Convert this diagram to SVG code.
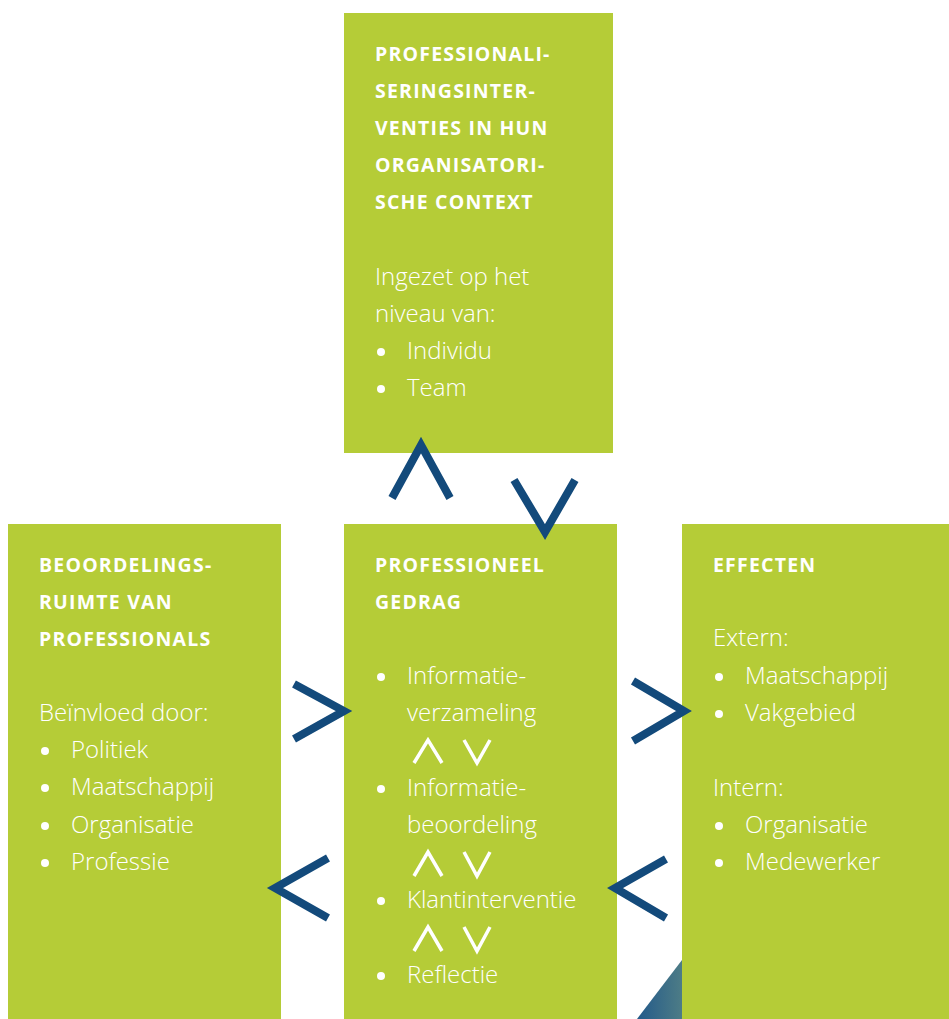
<svg xmlns="http://www.w3.org/2000/svg" width="949" height="1019" viewBox="0 0 949 1019">
<defs>
<style>
.box{fill:#b5cc37}
.h{font-family:"Open Sans","Liberation Sans",sans-serif;font-weight:700;font-size:19.5px;letter-spacing:1.2px;fill:#fff}
.t{font-family:"Open Sans","Liberation Sans",sans-serif;font-weight:300;font-size:24px;fill:#fff}
.bul{fill:#fff}
.arr{fill:none;stroke:#134a7b;stroke-width:8;stroke-linejoin:miter;stroke-miterlimit:10}
.sm{fill:none;stroke:#fff;stroke-width:3.5;stroke-linejoin:miter}
</style>
<linearGradient id="tri" x1="0" y1="0" x2="1" y2="0">
<stop offset="0" stop-color="#235a8a"/>
<stop offset="1" stop-color="#4d7c86"/>
</linearGradient>
</defs>
<rect width="949" height="1019" fill="#fff"/>
<polygon points="682,960 682,1019 637,1019" fill="url(#tri)"/>

<g id="node-top">
<rect class="box" x="344" y="13" width="269" height="440"/>
<text class="h" x="375" y="61">PROFESSIONALI-</text>
<text class="h" x="375" y="98">SERINGSINTER-</text>
<text class="h" x="375" y="135">VENTIES IN HUN</text>
<text class="h" x="375" y="172">ORGANISATORI-</text>
<text class="h" x="375" y="209">SCHE CONTEXT</text>
<text class="t" x="375" y="285">Ingezet op het</text>
<text class="t" x="375" y="322">niveau van:</text>
<circle class="bul" cx="381" cy="352" r="4"/>
<text class="t" x="407" y="359">Individu</text>
<circle class="bul" cx="381" cy="389" r="4"/>
<text class="t" x="407" y="396">Team</text>
</g>

<g id="node-left">
<rect class="box" x="8" y="524" width="273" height="495"/>
<text class="h" x="39" y="572">BEOORDELINGS-</text>
<text class="h" x="39" y="609">RUIMTE VAN</text>
<text class="h" x="39" y="646">PROFESSIONALS</text>
<text class="t" x="39" y="721">Beïnvloed door:</text>
<circle class="bul" cx="45" cy="751" r="4"/>
<text class="t" x="71" y="758">Politiek</text>
<circle class="bul" cx="45" cy="788" r="4"/>
<text class="t" x="71" y="795">Maatschappij</text>
<circle class="bul" cx="45" cy="826" r="4"/>
<text class="t" x="71" y="833">Organisatie</text>
<circle class="bul" cx="45" cy="863" r="4"/>
<text class="t" x="71" y="870">Professie</text>
</g>

<g id="node-middle">
<rect class="box" x="344" y="524" width="273" height="495"/>
<text class="h" x="375" y="572">PROFESSIONEEL</text>
<text class="h" x="375" y="609">GEDRAG</text>
<circle class="bul" cx="381" cy="677" r="4"/>
<text class="t" x="407" y="684">Informatie-</text>
<text class="t" x="407" y="721">verzameling</text>
<path class="sm" d="M414,763 L428,740 L442,763 M464,740 L477,763 L490,740"/>
<circle class="bul" cx="381" cy="789" r="4"/>
<text class="t" x="407" y="796">Informatie-</text>
<text class="t" x="407" y="833">beoordeling</text>
<path class="sm" d="M414,876 L428,852 L442,876 M464,852 L477,876 L490,852"/>
<circle class="bul" cx="381" cy="901" r="4"/>
<text class="t" x="407" y="908">Klantinterventie</text>
<path class="sm" d="M414,951 L428,927 L442,951 M464,927 L477,951 L490,927"/>
<circle class="bul" cx="381" cy="976" r="4"/>
<text class="t" x="407" y="983">Reflectie</text>
</g>

<g id="node-right">
<rect class="box" x="682" y="524" width="267" height="495"/>
<text class="h" x="713" y="572">EFFECTEN</text>
<text class="t" x="713" y="646">Extern:</text>
<circle class="bul" cx="719" cy="677" r="4"/>
<text class="t" x="745" y="684">Maatschappij</text>
<circle class="bul" cx="719" cy="714" r="4"/>
<text class="t" x="745" y="721">Vakgebied</text>
<text class="t" x="713" y="796">Intern:</text>
<circle class="bul" cx="719" cy="826" r="4"/>
<text class="t" x="745" y="833">Organisatie</text>
<circle class="bul" cx="719" cy="863" r="4"/>
<text class="t" x="745" y="870">Medewerker</text>
</g>

<g id="connectors">
<path class="arr" d="M392,498 L421,445 L450,498"/>
<path class="arr" d="M514,480 L545,532 L575,480"/>
<path class="arr" d="M294,684 L344,711 L294,739"/>
<path class="arr" d="M633,681 L684,711 L633,741"/>
<path class="arr" d="M328,858 L275,888 L328,918"/>
<path class="arr" d="M666,859 L615,888 L666,918"/>
</g>
</svg>
